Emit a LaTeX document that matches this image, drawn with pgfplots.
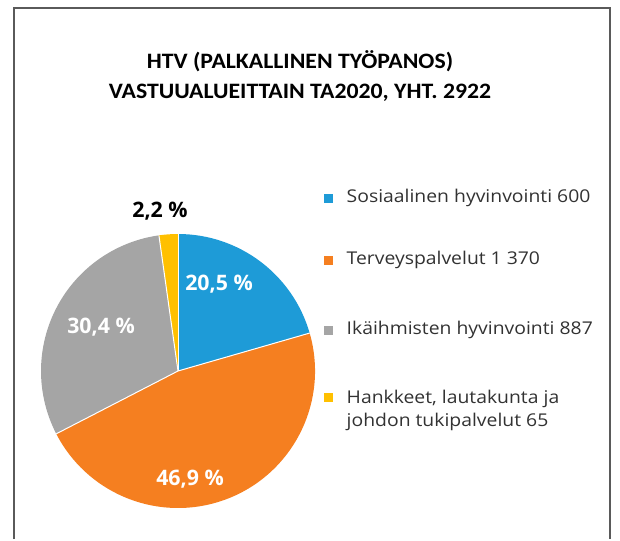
\documentclass[border=0pt]{standalone}
\usepackage{pgfplots}
\pgfplotsset{compat=1.18}
\usepackage{pgfplotstable}
\usepackage{fontspec}
\setmainfont{Open Sans}
\newfontfamily\legfont[FakeStretch=1.1]{Open Sans}
\newfontfamily\titlefont[FakeStretch=1.08]{Carlito}
\definecolor{cBlue}{RGB}{30,155,215}
\definecolor{cOrange}{RGB}{245,127,32}
\definecolor{cGray}{RGB}{165,165,165}
\definecolor{cYellow}{RGB}{255,192,0}
\definecolor{cFrame}{RGB}{90,90,90}
\definecolor{cText}{RGB}{50,50,50}

\pgfplotstableread{
label value
Sosiaalinen 600
Terveys 1370
Ika 887
Hankkeet 65
}\piedata

\begin{document}
\begin{tikzpicture}
\pgfplotstablegetelem{0}{value}\of\piedata \pgfmathsetmacro\va{\pgfplotsretval}
\pgfplotstablegetelem{1}{value}\of\piedata \pgfmathsetmacro\vb{\pgfplotsretval}
\pgfplotstablegetelem{2}{value}\of\piedata \pgfmathsetmacro\vc{\pgfplotsretval}
\pgfplotstablegetelem{3}{value}\of\piedata \pgfmathsetmacro\vd{\pgfplotsretval}
\pgfmathsetmacro\tot{\va+\vb+\vc+\vd}
\pgfmathsetmacro\aA{90}
\pgfmathsetmacro\aB{\aA-360*(\va/\tot)}
\pgfmathsetmacro\aC{\aB-360*(\vb/\tot)}
\pgfmathsetmacro\aD{\aC-360*(\vc/\tot)}
\pgfmathsetmacro\aE{\aD-360*(\vd/\tot)}
\def\R{102.75pt}
\begin{axis}[
  width=465pt, height=404.25pt, scale only axis,
  xmin=0, xmax=620, ymin=-539, ymax=0,
  axis lines=none, clip=false,
]
\path (axis cs:0,-539) rectangle (axis cs:620,0);
% frame
\draw[cFrame, line width=1.5pt] (axis cs:14,-539) -- (axis cs:14,-8) -- (axis cs:610,-8) -- (axis cs:610,-539);
% pie
\fill[cBlue]   (axis cs:178,-371) -- ++(\aA:\R) arc[start angle=\aA, end angle=\aB, radius=\R] -- cycle;
\fill[cOrange] (axis cs:178,-371) -- ++(\aB:\R) arc[start angle=\aB, end angle=\aC, radius=\R] -- cycle;
\fill[cGray]   (axis cs:178,-371) -- ++(\aC:\R) arc[start angle=\aC, end angle=\aD, radius=\R] -- cycle;
\fill[cYellow] (axis cs:178,-371) -- ++(\aD:\R) arc[start angle=\aD, end angle=\aE, radius=\R] -- cycle;
\draw[white, line width=0.75pt] (axis cs:178,-371) -- ++(\aA:\R);
\draw[white, line width=0.75pt] (axis cs:178,-371) -- ++(\aB:\R);
\draw[white, line width=0.75pt] (axis cs:178,-371) -- ++(\aC:\R);
\draw[white, line width=0.75pt] (axis cs:178,-371) -- ++(\aD:\R);
% data labels
\node[white, font=\bfseries\fontsize{16}{18}\selectfont] at (axis cs:219,-284) {20,5 \%};
\node[white, font=\bfseries\fontsize{16}{18}\selectfont] at (axis cs:101,-327) {30,4 \%};
\node[white, font=\bfseries\fontsize{16}{18}\selectfont] at (axis cs:190,-479) {46,9 \%};
\node[black, font=\bfseries\fontsize{16}{18}\selectfont] at (axis cs:160,-211) {2,2 \%};
% title
\node[align=center, font=\titlefont\bfseries\fontsize{16.5}{22.5}\selectfont] at (axis cs:300,-76) {HTV (PALKALLINEN TYÖPANOS)\\VASTUUALUEITTAIN TA2020, YHT. 2922};
% legend
\fill[cBlue]   (axis cs:324,-194) rectangle (axis cs:333,-203);
\fill[cOrange] (axis cs:324,-256) rectangle (axis cs:333,-265);
\fill[cGray]   (axis cs:324,-326) rectangle (axis cs:333,-335);
\fill[cYellow] (axis cs:324,-393) rectangle (axis cs:333,-402);
\node[anchor=west, font=\legfont\fontsize{13.2}{15}\selectfont, text=cText] at (axis cs:342,-198) {Sosiaalinen hyvinvointi 600};
\node[anchor=west, font=\legfont\fontsize{13.2}{15}\selectfont, text=cText] at (axis cs:342,-260) {Terveyspalvelut 1 370};
\node[anchor=west, font=\legfont\fontsize{13.2}{15}\selectfont, text=cText] at (axis cs:342,-330) {Ikäihmisten hyvinvointi 887};
\node[anchor=north west, align=left, font=\legfont\fontsize{13.2}{17.5}\selectfont, text=cText] at (axis cs:342,-385) {Hankkeet, lautakunta ja\\johdon tukipalvelut 65};
\end{axis}
\end{tikzpicture}
\end{document}
